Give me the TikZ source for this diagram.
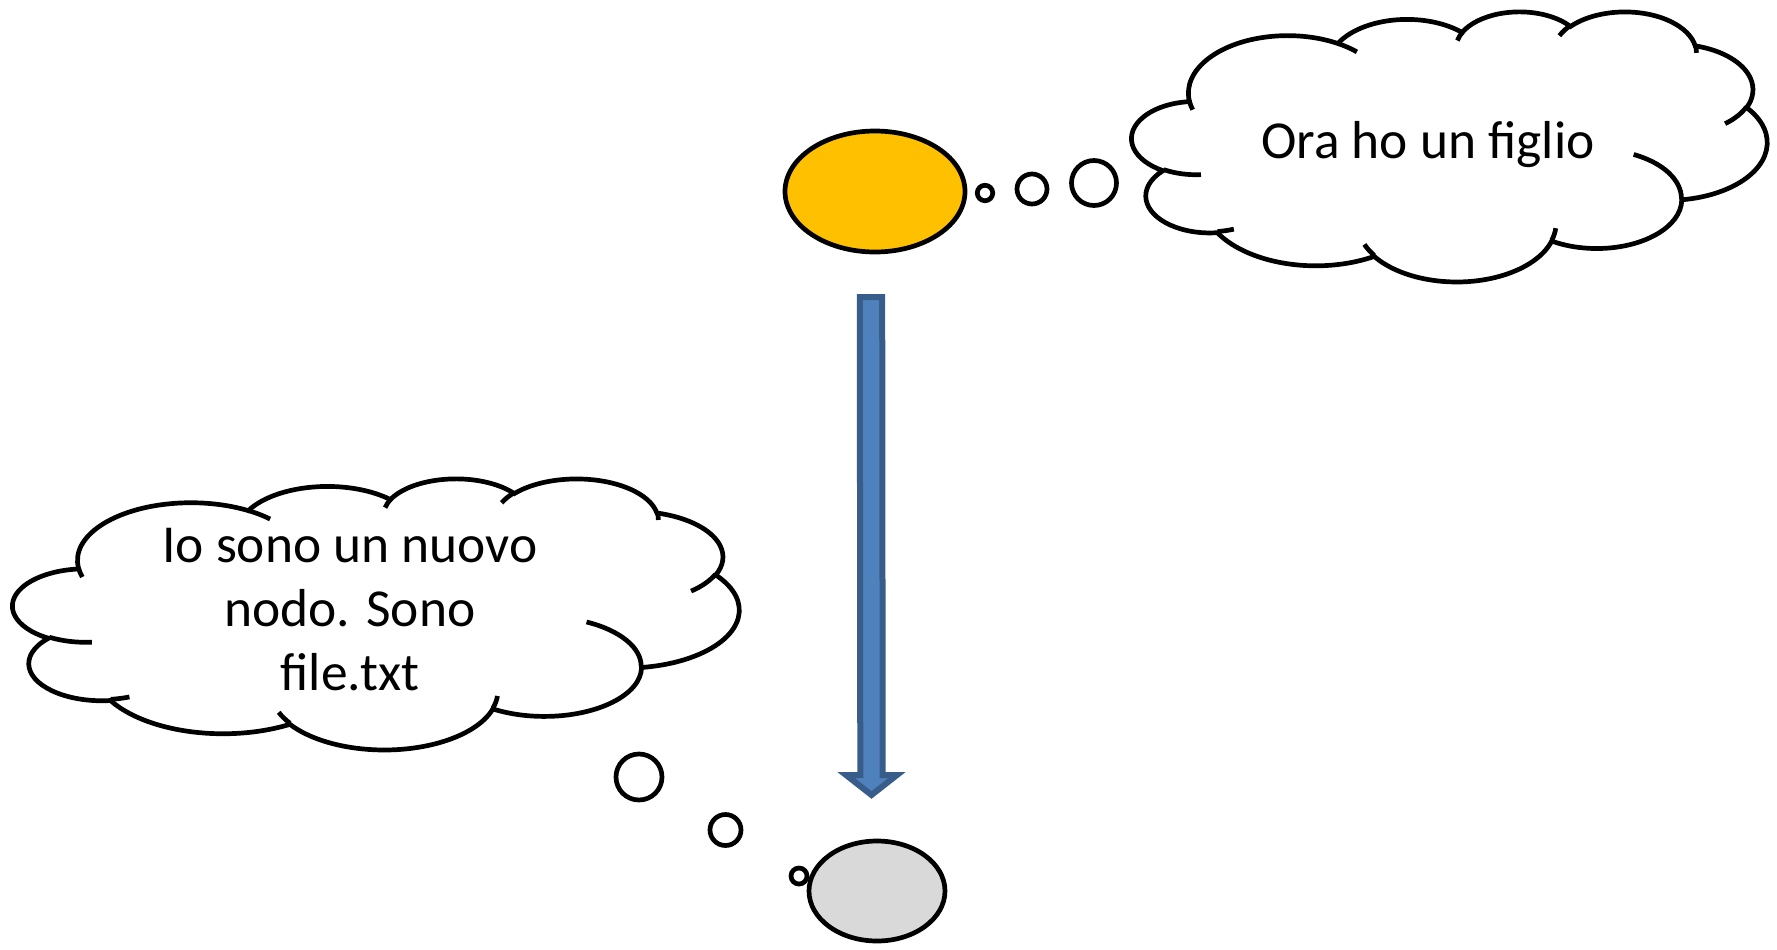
\documentclass[tikz,border=0pt]{standalone}
\usepackage{fontspec}
\setmainfont{Carlito}
\usetikzlibrary{shapes.geometric}

\definecolor{arancio}{HTML}{FFC000}
\definecolor{grigio}{HTML}{D9D9D9}
\definecolor{blufreccia}{HTML}{4F81BD}
\definecolor{bordoblu}{HTML}{385D8A}

% archi della nuvola: raggi / angolo iniziale / ampiezza (riquadro 43.2 x 43.2)
\newcommand\bordonuvola{6.753/9.190/-190.4875/123.7805, 5.333/7.267/-144.1024/89.9452,
  4.365/5.945/-145.8079/99.7230, 4.857/6.595/-130.9861/117.2417, 5.333/7.273/-78.7089/109.0269,
  6.775/9.220/-46.2673/130.2690, 5.785/7.867/0.6250/114.0333, 6.752/9.215/22.4516/115.1726,
  7.720/10.543/66.2426/75.7110, 4.360/5.918/-274.9421/146.7356, 4.345/5.945/-246.8285/152.5189}
% ganci interni: punto / raggi / angolo iniziale / ampiezza
\newcommand\gancinuvola{4.693/26.177/4.345/5.945/86.742/26.4295, 6.928/34.899/4.360/5.918/73.6105/11.4475,
  16.478/39.090/6.752/9.215/137.6242/14.0811, 28.827/34.751/6.752/9.215/6.4533/15.9984,
  34.129/22.954/5.785/7.867/-70.2924/70.9174, 41.798/15.354/5.333/7.273/30.3180/27.7515,
  38.324/5.426/4.857/6.595/-13.7443/14.8589, 29.078/3.952/4.857/6.595/-149.1815/18.1954,
  22.141/4.720/4.365/5.945/-163.4943/17.6864, 14.000/5.192/6.753/9.190/-66.7070/12.3194,
  4.127/15.789/6.753/9.190/157.6544/11.8582}

\begin{document}
\begin{tikzpicture}[
    tratto/.style={line width=0.047cm},
    bolla/.style={circle, draw, tratto, fill=white, inner sep=0pt},
    testo/.style={font=\fontsize{15.2}{18.2}\selectfont, align=center},
    freccia/.style={fill=blufreccia, draw=bordoblu, line width=0.06cm}
  ]
  \useasboundingbox (0,0) rectangle (17.77,-9.49);

  % nuvole: angolo in alto a sinistra / larghezza / altezza
  \foreach \nx/\ny/\nw/\nh in {11.32/-0.11/6.35/2.70, 0.13/-4.78/7.26/2.71} {
    \draw[tratto, fill=white] (\nx+3.9/43.2*\nw, \ny-14.37/43.2*\nh)
      \foreach \wr/\hr/\st/\sw [evaluate={\st as \ta using -atan2(\wr*sin(\st),\hr*cos(\st))},
          evaluate={\sw as \tb using -atan2(\wr*sin(\st+\sw),\hr*cos(\st+\sw))},
          evaluate={\sw as \dt using -mod(\ta-\tb+720,360)}] in \bordonuvola {
        arc[start angle=\ta, delta angle=\dt, x radius=\wr/43.2*\nw, y radius=\hr/43.2*\nh]
      } -- cycle;
    \draw[tratto]
      \foreach \px/\py/\wr/\hr/\st/\sw [evaluate={\st as \ta using -atan2(\wr*sin(\st),\hr*cos(\st))},
          evaluate={\sw as \tb using -atan2(\wr*sin(\st+\sw),\hr*cos(\st+\sw))},
          evaluate={\sw as \dt using -mod(\ta-\tb+720,360)}] in \gancinuvola {
        (\nx+\px/43.2*\nw, \ny-\py/43.2*\nh)
          arc[start angle=\ta, delta angle=\dt, x radius=\wr/43.2*\nw, y radius=\hr/43.2*\nh]
      };
  }

  \node[testo, anchor=base] (pensierofiglio) at (14.28,-1.58) {Ora ho un figlio};
  \node[testo] (pensieronodo) at (3.50,-6.10) {Io sono un nuovo\\nodo. Sono\\file.txt};

  % nodi
  \node[ellipse, draw, tratto, fill=arancio, minimum width=1.80cm, minimum height=1.21cm,
        inner sep=0pt] (padre) at (8.75,-1.915) {};
  \node[ellipse, draw, tratto, fill=grigio, minimum width=1.36cm, minimum height=1.00cm,
        inner sep=0pt] (figlio) at (8.77,-8.91) {};

  % bolle
  \foreach \x/\y/\d [count=\i] in {9.85/-1.93/0.155, 10.32/-1.89/0.30, 10.94/-1.83/0.45}
    \node[bolla, minimum size=\d cm] (su\i) at (\x,\y) {};
  \foreach \x/\y/\d [count=\i] in {7.99/-8.76/0.16, 7.255/-8.30/0.31, 6.39/-7.77/0.46}
    \node[bolla, minimum size=\d cm] (giu\i) at (\x,\y) {};

  % freccia
  \coordinate (inizio) at (8.71,-2.97);
  \coordinate (punta) at (8.715,-7.95);
  \draw[freccia] ([xshift=-1.12mm]inizio) -- ([xshift=1.12mm]inizio)
    -- ([xshift=1.12mm, yshift=2.0mm]punta) -- ([xshift=2.55mm, yshift=2.0mm]punta)
    -- (punta) -- ([xshift=-2.55mm, yshift=2.0mm]punta)
    -- ([xshift=-1.12mm, yshift=2.0mm]punta) -- cycle;
\end{tikzpicture}
\end{document}
